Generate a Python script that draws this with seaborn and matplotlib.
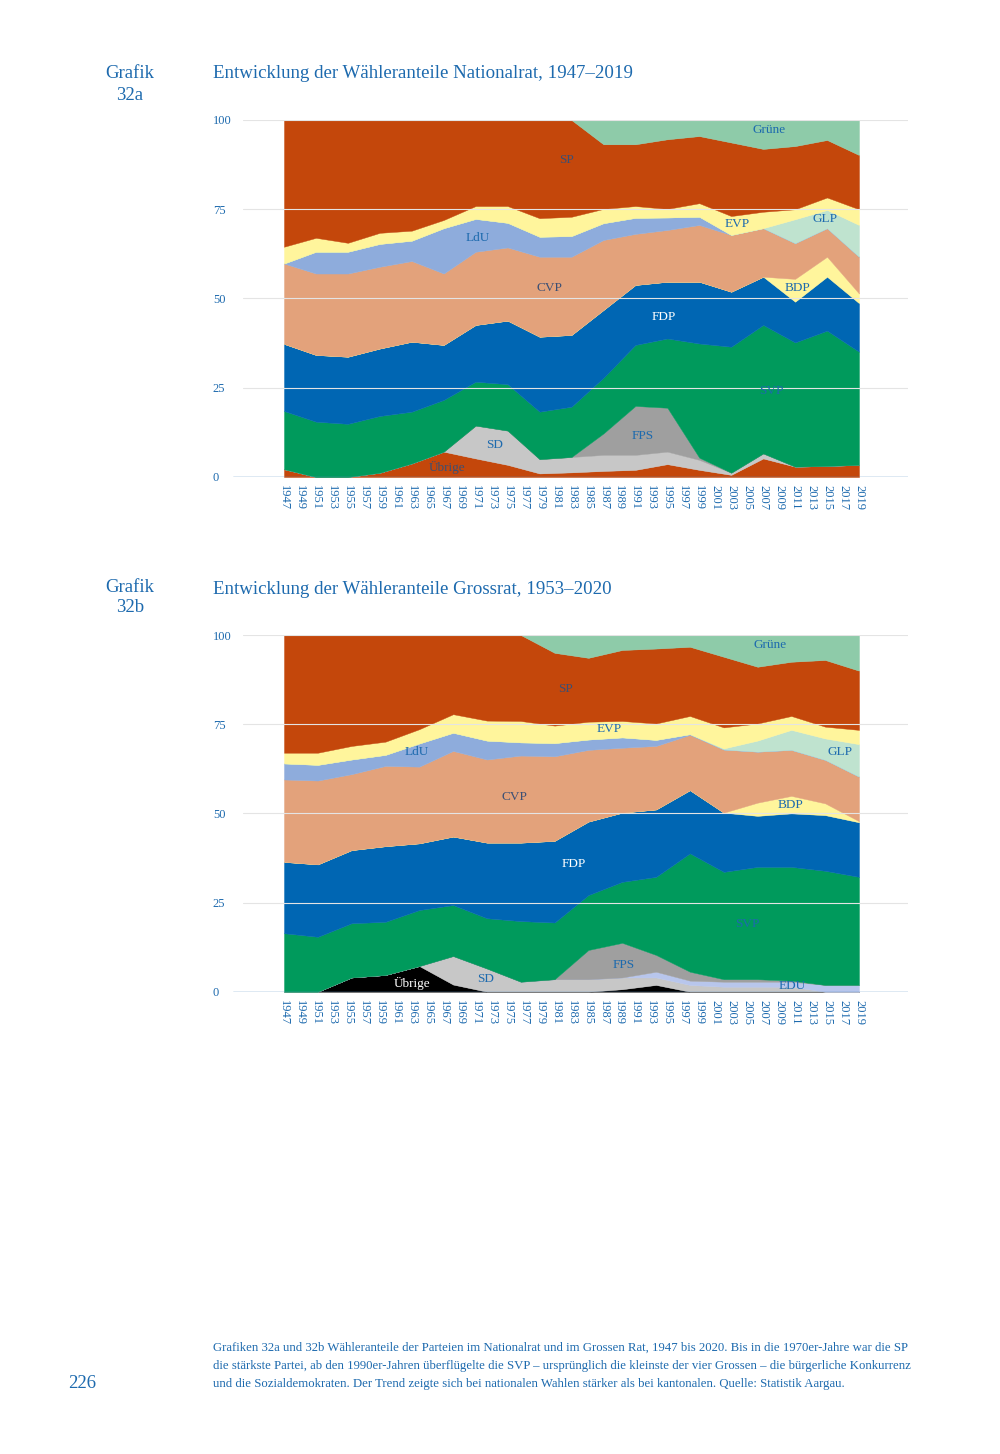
import numpy as np
import pandas as pd
import matplotlib
matplotlib.use("Agg")
import matplotlib.pyplot as plt
import seaborn as sns

sns.set_style("white")
plt.rcParams['font.family'] = ['Liberation Serif', 'DejaVu Serif']

# x-axis labels shared by both charts (Excel category axis)
axis_labels = [str(y) for y in range(1947, 2020, 2)]

# --- Grafik 32a: Nationalrat (vote shares in %) ---
nr_years = [1947, 1951, 1955, 1959, 1963, 1967, 1971, 1975, 1979, 1983,
            1987, 1991, 1995, 1999, 2003, 2007, 2011, 2015, 2019]
nr_uebrige = [2.2, 0, 0, 1.2, 3.8, 7.1, 5.2, 3.4, 1.0, 1.3, 1.7, 2.0, 3.6, 2.0, 0.6, 5.2, 2.9, 3.1, 3.4]
nr_sd = [0, 0, 0, 0, 0, 0, 9.2, 9.6, 4.0, 4.3, 4.5, 4.2, 3.5, 2.8, 0.6, 1.4, 0, 0, 0]
nr_fps = [0, 0, 0, 0, 0, 0, 0, 0, 0, 0, 6.0, 13.7, 12.3, 0.6, 0, 0, 0, 0, 0]
nr_svp = [16.3, 15.5, 14.9, 15.9, 14.5, 14.5, 12.3, 13.0, 13.3, 14.1, 15.6, 17.1, 19.4, 32.0, 35.3, 36.0, 34.8, 37.9, 31.7]
nr_fdp = [18.8, 18.7, 18.8, 18.9, 19.6, 15.4, 15.9, 17.8, 21.0, 20.1, 19.0, 16.8, 15.9, 17.3, 15.4, 13.5, 11.4, 15.1, 13.6]
nr_bdp = [0, 0, 0, 0, 0, 0, 0, 0, 0, 0, 0, 0, 0, 0, 0, 0, 6.4, 5.6, 2.7]
nr_cvp = [22.5, 22.8, 23.3, 22.9, 22.6, 20.0, 20.5, 20.5, 22.4, 21.9, 19.6, 14.3, 14.5, 15.9, 15.9, 13.6, 10.0, 8.0, 10.3]
nr_ldu = [0, 6.1, 6.1, 6.4, 5.7, 12.7, 9.2, 6.9, 5.6, 5.8, 4.7, 4.5, 3.5, 2.3, 0, 0, 0, 0, 0]
nr_glp = [0, 0, 0, 0, 0, 0, 0, 0, 0, 0, 0, 0, 0, 0, 0, 0, 6.7, 5.1, 8.9]
nr_evp = [4.7, 3.9, 2.5, 3.1, 2.8, 2.3, 3.6, 4.7, 5.2, 5.4, 4.0, 3.3, 2.4, 3.8, 5.3, 4.6, 2.8, 3.5, 4.4]
nr_sp = [35.5, 33.0, 34.4, 31.6, 31.0, 28.0, 24.1, 24.1, 27.5, 27.1, 18.1, 17.3, 19.5, 18.8, 20.6, 17.6, 17.7, 16.1, 15.2]
nr_gruene = [0, 0, 0, 0, 0, 0, 0, 0, 0, 0, 6.8, 6.8, 5.4, 4.5, 6.3, 8.1, 7.3, 5.6, 9.8]

# --- Grafik 32b: Grossrat (vote shares in %) ---
gr_years = [1953, 1957, 1961, 1965, 1969, 1973, 1977, 1981, 1985, 1989,
            1993, 1997, 2001, 2005, 2009, 2012, 2016, 2020]
gr_uebrige = [0, 0, 4.0, 4.7, 7.2, 2.0, 0, 0, 0, 0, 0.7, 1.9, 0, 0, 0, 0, 0, 0]
gr_sd = [0, 0, 0, 0, 0, 8.0, 6.5, 2.8, 3.5, 3.5, 3.3, 2.1, 1.9, 1.4, 1.4, 1.4, 0, 0]
gr_edu = [0, 0, 0, 0, 0, 0, 0, 0, 0, 0, 0, 1.6, 1.2, 1.4, 1.4, 1.4, 1.9, 1.9]
gr_fps = [0, 0, 0, 0, 0, 0, 0, 0, 0, 8.2, 9.7, 4.7, 2.5, 0.7, 0.7, 0.3, 0, 0]
gr_svp = [16.4, 15.4, 15.2, 14.9, 15.7, 14.3, 14.1, 17.0, 15.9, 15.4, 17.1, 21.9, 33.2, 30.1, 31.5, 31.9, 32.0, 30.3]
gr_fdp = [20.0, 20.3, 20.5, 21.2, 18.7, 19.2, 21.2, 22.0, 22.9, 20.6, 19.4, 18.9, 17.7, 16.6, 14.3, 15.0, 15.6, 15.3]
gr_bdp = [0, 0, 0, 0, 0, 0, 0, 0, 0, 0, 0, 0, 0, 0, 3.7, 4.9, 3.3, 0.3]
gr_cvp = [23.1, 23.5, 21.3, 22.5, 21.5, 24.0, 23.3, 24.4, 23.7, 20.1, 18.2, 17.8, 15.5, 17.7, 14.3, 12.9, 12.2, 12.5]
gr_ldu = [4.5, 4.4, 4.1, 3.1, 6.5, 5.1, 5.3, 3.7, 3.7, 2.9, 2.9, 1.7, 0.2, 0, 0, 0, 0, 0]
gr_glp = [0, 0, 0, 0, 0, 0, 0, 0, 0, 0, 0, 0, 0, 0.3, 3.1, 5.6, 6.0, 9.1]
gr_evp = [3.0, 3.4, 3.8, 3.7, 4.0, 5.2, 5.6, 6.0, 4.9, 5.0, 4.6, 4.6, 5.1, 5.9, 4.8, 3.9, 3.3, 4.0]
gr_sp = [33.0, 33.0, 31.1, 29.9, 26.4, 22.2, 24.0, 24.1, 20.4, 17.9, 19.9, 21.0, 19.4, 19.8, 15.9, 15.2, 18.7, 16.6]
gr_gruene = [0, 0, 0, 0, 0, 0, 0, 0, 5.0, 6.4, 4.2, 3.8, 3.3, 6.1, 8.9, 7.5, 7.0, 10.0]

BLUE_TXT = '#1d6aae'
DARK = '#3b4f74'
colors = {
    'Übrige': '#c4470b', 'SD': '#c7c7c7', 'EDU': '#b8c6ec', 'FPS': '#9f9f9f',
    'SVP': '#009a5c', 'FDP': '#0066b3', 'BDP': '#fff59c', 'CVP': '#e3a27b',
    'LdU': '#8eacdc', 'GLP': '#bfe3cf', 'EVP': '#fff59c', 'SP': '#c4470b',
    'Grüne': '#8ecba9',
}

nr = pd.DataFrame({'Übrige': nr_uebrige, 'SD': nr_sd, 'FPS': nr_fps, 'SVP': nr_svp,
                   'FDP': nr_fdp, 'BDP': nr_bdp, 'CVP': nr_cvp, 'LdU': nr_ldu,
                   'GLP': nr_glp, 'EVP': nr_evp, 'SP': nr_sp, 'Grüne': nr_gruene},
                  index=nr_years)
gr = pd.DataFrame({'Übrige': gr_uebrige, 'SD': gr_sd, 'EDU': gr_edu, 'FPS': gr_fps,
                   'SVP': gr_svp, 'FDP': gr_fdp, 'BDP': gr_bdp, 'CVP': gr_cvp,
                   'LdU': gr_ldu, 'GLP': gr_glp, 'EVP': gr_evp, 'SP': gr_sp,
                   'Grüne': gr_gruene},
                  index=gr_years)


def area_chart(ax, df, cols, labels):
    n = len(df) - 1
    x = np.arange(len(df))
    ax.stackplot(x, [df[c].values for c in df.columns], colors=cols,
                 edgecolor='face', linewidth=0.3, zorder=2)
    span = 675 / 575 * n
    ax.set_xlim(-51 / 575 * n, -51 / 575 * n + span)
    ax.set_ylim(0, 100)
    for y in [25, 50, 75, 100]:
        ax.axhline(y, xmin=10 / 675, color='#e4e4e4', lw=0.8, zorder=3)
    ax.axhline(0, color='#5b8fc2', lw=1.0, zorder=4)
    ax.set_xticks(np.linspace(0, n, len(axis_labels)))
    ax.set_xticklabels(axis_labels, rotation=270, fontsize=9, color=BLUE_TXT)
    ax.set_yticks([0, 25, 50, 75, 100])
    ax.set_yticklabels(['0', '25', '50', '75', '100'], fontsize=9,
                       color=BLUE_TXT, ha='left')
    ax.tick_params(axis='x', length=0, pad=6)
    ax.tick_params(axis='y', length=0, pad=14.5)
    sns.despine(ax=ax, left=True, bottom=True)
    for txt, xi, yv, c in labels:
        ax.text(xi, yv, txt, ha='center', va='center', fontsize=9.5, color=c, zorder=5)


fig = plt.figure(figsize=(10, 14.54), dpi=100)

ax1 = fig.add_axes([0.233, 1 - 477 / 1454, 0.675, 357 / 1454])
area_chart(ax1, nr, [colors[c] for c in nr.columns], [
    ('Grüne', 15.2, 97.2, BLUE_TXT), ('SP', 8.83, 88.8, DARK),
    ('LdU', 6.07, 67.0, BLUE_TXT), ('CVP', 8.3, 52.9, DARK),
    ('FDP', 11.9, 44.8, 'white'), ('SVP', 15.25, 24.1, BLUE_TXT),
    ('SD', 6.6, 9.0, BLUE_TXT), ('Übrige', 5.1, 2.8, DARK),
    ('FPS', 11.24, 11.5, BLUE_TXT), ('EVP', 14.2, 70.9, BLUE_TXT),
    ('GLP', 16.94, 72.3, BLUE_TXT), ('BDP', 16.06, 52.9, BLUE_TXT),
])

gr_cols = [colors[c] for c in gr.columns]
gr_cols[0] = '#000000'
ax2 = fig.add_axes([0.233, 1 - 991.7 / 1454, 0.675, 356.7 / 1454])
area_chart(ax2, gr, gr_cols, [
    ('Grüne', 14.37, 97.2, BLUE_TXT), ('SP', 8.31, 84.9, DARK),
    ('EVP', 9.61, 73.6, BLUE_TXT), ('LdU', 3.93, 67.2, BLUE_TXT),
    ('GLP', 16.44, 67.2, BLUE_TXT), ('CVP', 6.8, 54.6, DARK),
    ('BDP', 14.96, 52.4, BLUE_TXT), ('FDP', 8.57, 35.8, 'white'),
    ('SVP', 13.69, 19.0, BLUE_TXT), ('FPS', 10.05, 7.5, BLUE_TXT),
    ('SD', 5.97, 3.6, BLUE_TXT), ('Übrige', 3.78, 2.4, 'white'),
    ('EDU', 15.02, 1.6, BLUE_TXT),
])


def px(x, y):
    return x / 1000, 1 - y / 1454


# headings
fig.text(*px(130, 73), 'Grafik', ha='center', va='center', fontsize=13.5, color=BLUE_TXT)
fig.text(*px(130, 95), '32a', ha='center', va='center', fontsize=13.5, color=BLUE_TXT)
fig.text(*px(213, 73), 'Entwicklung der Wähleranteile Nationalrat, 1947–2019',
         ha='left', va='center', fontsize=13.6, color=BLUE_TXT)
fig.text(*px(130, 588), 'Grafik', ha='center', va='center', fontsize=13.5, color=BLUE_TXT)
fig.text(*px(130, 608), '32b', ha='center', va='center', fontsize=13.5, color=BLUE_TXT)
fig.text(*px(213, 589), 'Entwicklung der Wähleranteile Grossrat, 1953–2020',
         ha='left', va='center', fontsize=13.6, color=BLUE_TXT)

caption = [
    'Grafiken 32a und 32b Wähleranteile der Parteien im Nationalrat und im Grossen Rat, 1947 bis 2020. '
    'Bis in die 1970er-Jahre war die SP',
    'die stärkste Partei, ab den 1990er-Jahren überflügelte die SVP – ursprünglich die kleinste der vier '
    'Grossen – die bürgerliche Konkurrenz',
    'und die Sozialdemokraten. Der Trend zeigte sich bei nationalen Wahlen stärker als bei kantonalen. '
    'Quelle: Statistik Aargau.',
]
for i, line in enumerate(caption):
    fig.text(*px(213, 1348 + i * 18), line, ha='left', va='center', fontsize=9.15, color=BLUE_TXT)
fig.text(*px(68, 1384), '226', ha='left', va='center', fontsize=13.5, color=BLUE_TXT)

fig.savefig('out.png', dpi=100)
